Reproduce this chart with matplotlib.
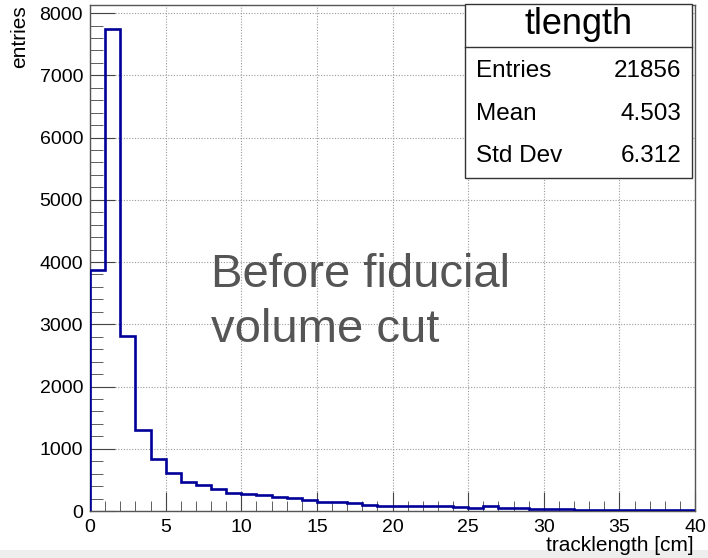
import matplotlib
matplotlib.use("Agg")
import matplotlib.pyplot as plt
from matplotlib.patches import Rectangle
from matplotlib.ticker import MultipleLocator
from matplotlib.lines import Line2D

# histogram of track length, 1 cm bins from 0 to 40
bin_edges = list(range(0, 41))
counts = [3870, 7750, 2810, 1300, 830, 605, 470, 417, 353, 284,
          273, 257, 230, 214, 177, 144, 144, 128, 101, 85,
          85, 85, 80, 75, 64, 48, 75, 43, 48, 37,
          37, 32, 21, 21, 21, 16, 16, 11, 11, 11]

hist_name = "tlength"
stat_names = ["Entries", "Mean", "Std Dev"]
stat_values = ["21856", "4.503", "6.312"]

plt.rcParams["font.family"] = ["Liberation Sans", "DejaVu Sans"]

W, H = 708, 558
fig = plt.figure(figsize=(W / 100, H / 100), dpi=100)

# light band at the bottom of the screenshot (behind everything)
fig.patches.append(Rectangle((0, 0), 1, 8 / H, transform=fig.transFigure,
                             facecolor="#eeeeee", edgecolor="none", zorder=-5))

ax = fig.add_axes([90 / W, 1 - 511 / H, 605 / W, 506 / H])

ax.stairs(counts, bin_edges, baseline=0, color="#000099", linewidth=1.9, zorder=3)

ax.set_xlim(0, 40)
ax.set_ylim(0, 8130)
ax.xaxis.set_major_locator(MultipleLocator(5))
ax.xaxis.set_minor_locator(MultipleLocator(1))
ax.yaxis.set_major_locator(MultipleLocator(1000))
ax.yaxis.set_minor_locator(MultipleLocator(200))
ax.tick_params(which="both", direction="in", colors="#444444", labelcolor="black",
               labelsize=14, top=False, right=False)
ax.tick_params(axis="y", which="major", length=18, pad=5)
ax.tick_params(axis="y", which="minor", length=9)
ax.tick_params(axis="x", which="major", length=14, pad=6)
ax.tick_params(axis="x", which="minor", length=7)
ax.grid(True, which="major", color="#9a9a9a", linestyle=(0, (1, 1.5)), linewidth=0.8)
for s in ax.spines.values():
    s.set_color("#555555")
    s.set_linewidth(1.0)

ax.set_xlabel("tracklength [cm]", fontsize=15, ha="right", va="baseline")
ax.xaxis.set_label_coords((694 - 90) / 605, (511 - 551) / 506)
ax.set_ylabel("entries", fontsize=15, loc="top")
ax.yaxis.set_label_coords((29 - 90) / 605, 1.0)

ax.text(0.2, (511 - 342) / 506, "Before fiducial\nvolume cut", transform=ax.transAxes,
        fontsize=34, color="#555555", ha="left", va="baseline", linespacing=1.33)

# stats box in figure pixel coordinates
def fx(px):
    return px / W

def fy(py):
    return 1 - py / H

box_l, box_r, box_t, box_b = 465, 692, 4, 178
fig.patches.append(Rectangle((fx(box_l), fy(box_b)), fx(box_r) - fx(box_l), fy(box_t) - fy(box_b),
                             transform=fig.transFigure, facecolor="white",
                             edgecolor="#333333", linewidth=1.0, zorder=5))
fig.lines.append(Line2D([fx(box_l), fx(box_r)], [fy(47), fy(47)], transform=fig.transFigure,
                        color="#333333", linewidth=1.0, zorder=6))
fig.text(fx((box_l + box_r) / 2), fy(25), hist_name, fontsize=26, ha="center", va="center", zorder=7)
row_y = [71, 114, 156]
for name, val, py in zip(stat_names, stat_values, row_y):
    fig.text(fx(476), fy(py), name, fontsize=17.5, ha="left", va="center", zorder=7)
    fig.text(fx(681), fy(py), val, fontsize=17.5, ha="right", va="center", zorder=7)

fig.savefig("out.png", dpi=100)
